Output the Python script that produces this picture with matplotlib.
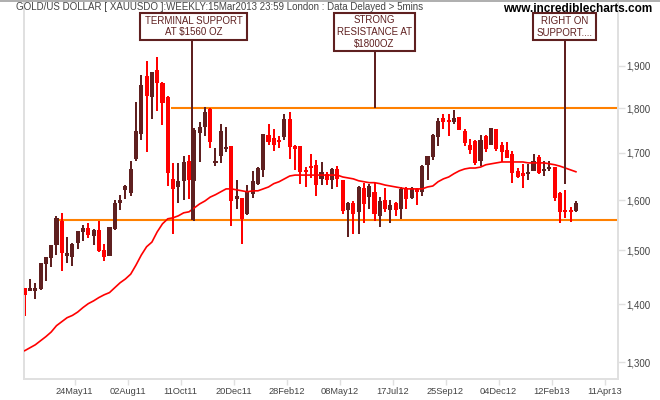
import matplotlib
matplotlib.use("Agg")
import matplotlib.pyplot as plt
from matplotlib.patches import Rectangle
from matplotlib.ticker import NullLocator

plt.rcParams['font.family'] = ['Liberation Sans', 'DejaVu Sans']

# weekly candles
opens = [1429, 1424, 1424, 1428, 1474, 1486, 1510, 1558, 1489, 1488,
         1514, 1536, 1544, 1528, 1540, 1501, 1489, 1542, 1594, 1621,
         1615, 1686, 1741, 1876, 1826, 1890, 1859, 1826, 1644, 1627,
         1640, 1682, 1640, 1744, 1757, 1798, 1678, 1693, 1708, 1715,
         1602, 1604, 1572, 1613, 1634, 1663, 1739, 1733, 1728, 1735,
         1775, 1715, 1715, 1663, 1671, 1674, 1644, 1655, 1642, 1665,
         1642, 1580, 1594, 1576, 1625, 1606, 1617, 1568, 1600, 1580,
         1594, 1582, 1625, 1604, 1623, 1617, 1674, 1691, 1735, 1778,
         1773, 1769, 1780, 1748, 1717, 1726, 1682, 1737, 1717, 1753,
         1717, 1706, 1697, 1661, 1657, 1655, 1661, 1691, 1661, 1665,
         1669, 1615, 1580, 1580, 1578]
highs = [1429, 1446, 1439, 1476, 1488, 1510, 1568, 1574, 1526, 1514,
         1538, 1550, 1554, 1542, 1558, 1512, 1546, 1600, 1611, 1631,
         1682, 1814, 1878, 1913, 1885, 1922, 1861, 1828, 1678, 1678,
         1693, 1695, 1755, 1769, 1803, 1801, 1711, 1764, 1757, 1715,
         1642, 1604, 1631, 1661, 1669, 1741, 1764, 1753, 1737, 1787,
         1791, 1717, 1715, 1669, 1697, 1684, 1680, 1659, 1667, 1671,
         1642, 1596, 1598, 1629, 1636, 1634, 1636, 1606, 1625, 1600,
         1596, 1627, 1627, 1627, 1625, 1674, 1693, 1741, 1778, 1787,
         1787, 1796, 1780, 1753, 1730, 1728, 1739, 1739, 1755, 1753,
         1724, 1724, 1704, 1667, 1676, 1676, 1697, 1695, 1682, 1682,
         1669, 1617, 1621, 1586, 1598]
lows = [1379, 1424, 1410, 1426, 1442, 1469, 1491, 1461, 1476, 1470,
        1503, 1518, 1524, 1510, 1497, 1480, 1489, 1540, 1580, 1602,
        1609, 1682, 1728, 1702, 1775, 1793, 1762, 1629, 1532, 1594,
        1600, 1602, 1558, 1680, 1737, 1711, 1671, 1678, 1702, 1548,
        1582, 1512, 1570, 1604, 1631, 1648, 1717, 1704, 1711, 1728,
        1686, 1663, 1634, 1627, 1646, 1609, 1631, 1631, 1623, 1627,
        1572, 1526, 1532, 1532, 1554, 1582, 1558, 1546, 1576, 1554,
        1568, 1562, 1582, 1602, 1590, 1609, 1642, 1684, 1715, 1753,
        1737, 1764, 1750, 1715, 1697, 1674, 1671, 1702, 1717, 1704,
        1680, 1689, 1636, 1646, 1625, 1642, 1661, 1655, 1650, 1661,
        1598, 1554, 1564, 1556, 1576]
closes = [1417, 1429, 1429, 1476, 1488, 1510, 1564, 1495, 1495, 1512,
          1538, 1544, 1530, 1540, 1499, 1488, 1546, 1594, 1600, 1629,
          1665, 1748, 1854, 1828, 1885, 1859, 1812, 1657, 1623, 1640,
          1680, 1642, 1750, 1757, 1791, 1724, 1682, 1748, 1713, 1598,
          1609, 1562, 1617, 1640, 1667, 1741, 1724, 1717, 1724, 1775,
          1713, 1708, 1659, 1659, 1667, 1631, 1659, 1642, 1665, 1644,
          1578, 1594, 1572, 1627, 1592, 1629, 1572, 1598, 1582, 1590,
          1580, 1623, 1602, 1625, 1617, 1671, 1693, 1739, 1771, 1769,
          1769, 1778, 1750, 1722, 1706, 1678, 1728, 1708, 1755, 1708,
          1702, 1689, 1657, 1648, 1650, 1659, 1682, 1657, 1665, 1669,
          1604, 1576, 1576, 1576, 1594]
ma = [1319, 1324, 1329, 1336, 1343, 1351, 1362, 1369, 1376, 1380,
      1386, 1394, 1401, 1406, 1412, 1417, 1421, 1430, 1439, 1446,
      1455, 1472, 1491, 1507, 1516, 1536, 1552, 1562, 1564, 1568,
      1574, 1576, 1584, 1592, 1598, 1606, 1611, 1617, 1623, 1623,
      1621, 1619, 1617, 1619, 1619, 1623, 1627, 1634, 1638, 1644,
      1650, 1652, 1652, 1652, 1652, 1652, 1652, 1652, 1652, 1652,
      1648, 1646, 1644, 1640, 1638, 1636, 1636, 1634, 1631, 1629,
      1627, 1625, 1623, 1623, 1623, 1623, 1627, 1629, 1638, 1644,
      1648, 1655, 1661, 1665, 1667, 1667, 1669, 1674, 1676, 1678,
      1680, 1680, 1680, 1680, 1680, 1678, 1678, 1678, 1678, 1676,
      1674, 1671, 1667, 1663, 1659]

date_labels = ['24May11', '02Aug11', '11Oct11', '20Dec11', '28Feb12', '08May12',
               '17Jul12', '25Sep12', '04Dec12', '12Feb13', '11Apr13']
date_ticks = [9.4, 19.4, 29.4, 39.4, 49.4, 59.4, 69.4, 79.4, 89.4, 99.4, 109.4]
price_ticks = [1300, 1400, 1500, 1600, 1700, 1800, 1900]
price_labels = ['1,300', '1,400', '1,500', '1,600', '1,700', '1,800', '1,900']

support = 1560
resistance = 1800

DARK = '#5f2020'
RED = '#ff0000'
ORANGE = '#ff8000'
GRID = '#e0e0e0'
TEXT = '#444444'
W, H = 660, 400


def px_x(x):
    return x / W


def px_y(y):
    return 1 - y / H


fig = plt.figure(figsize=(6.6, 4), dpi=100, facecolor='white')
ax = fig.add_axes([px_x(24), px_y(379), px_x(618 - 24), 378 / H])
ax.set_yscale('log')
ax.set_xlim(-0.13, 111.94)
ax.set_ylim(1272, 2065)

# support / resistance first, candles sit on top
ax.hlines(resistance, 27.6, 111.94, color=ORANGE, lw=1.5, zorder=1)
ax.hlines(support, 6.3, 111.94, color=ORANGE, lw=1.5, zorder=1)

for i in range(len(opens)):
    c = DARK if closes[i] >= opens[i] else RED
    ax.vlines(i, lows[i], highs[i], color=c, lw=1.44, zorder=2)
    bottom = min(opens[i], closes[i])
    ax.add_patch(Rectangle((i - 0.38, bottom), 0.76, abs(closes[i] - opens[i]),
                           facecolor=c, edgecolor='none', lw=0, zorder=3))

ax.plot(range(len(ma)), ma, color=RED, lw=1.2, zorder=4)

# callout stems, ends at the price they point to
ax.vlines(31.6, support, 1964, color=DARK, lw=1.44, zorder=5)
ax.vlines(66.04, resistance, 1937, color=DARK, lw=1.44, zorder=5)
ax.vlines(101.9, 1634, 1964, color=DARK, lw=1.44, zorder=5)

ax.set_xticks(date_ticks)
ax.set_xticklabels(date_labels)
ax.set_yticks(price_ticks)
ax.set_yticklabels(price_labels)
ax.yaxis.set_minor_locator(NullLocator())
ax.yaxis.tick_right()
ax.tick_params(axis='x', length=4, width=1, color=GRID, labelsize=6.7, labelcolor=TEXT, pad=2)
ax.tick_params(axis='y', length=5, width=1, color=GRID, labelsize=7, labelcolor=TEXT, pad=1)

for name in ['left', 'bottom', 'right']:
    ax.spines[name].set_color(GRID)
    ax.spines[name].set_linewidth(1.4)
ax.spines['top'].set_visible(False)

# thin grey rule along the very top of the image
fig.add_artist(Rectangle((0, px_y(1.5)), 1, 1.5 / H, transform=fig.transFigure,
                         facecolor='#b0b0b0', edgecolor='none'))

fig.text(px_x(16), px_y(7.5), 'GOLD/US DOLLAR [ XAUUSDO ]:WEEKLY:15Mar2013 23:59 London : Data Delayed > 5mins',
         fontsize=7.0, color=TEXT, va='center', ha='left')
fig.text(px_x(652), px_y(8.5), 'www.incrediblecharts.com', fontsize=8.5, fontweight='bold',
         color='black', va='center', ha='right')


def callout(x0, x1, y0, y1, lines):
    fig.add_artist(Rectangle((px_x(x0), px_y(y1)), px_x(x1 - x0), (y1 - y0) / H,
                             transform=fig.transFigure, facecolor='white',
                             edgecolor=DARK, lw=1.5, zorder=6))
    fig.text(px_x((x0 + x1) / 2), px_y((y0 + y1) / 2), '\n'.join(lines), fontsize=7,
             color=DARK, ha='center', va='center', linespacing=1.25, zorder=7)


callout(140, 247, 13, 40, ['TERMINAL SUPPORT', 'AT $1560 OZ'])
callout(334, 415, 13, 51, ['STRONG', 'RESISTANCE AT', '$1800OZ'])
callout(533, 596, 13, 40, ['RIGHT ON', 'SUPPORT....'])

fig.savefig('out.png', dpi=100, facecolor='white')
